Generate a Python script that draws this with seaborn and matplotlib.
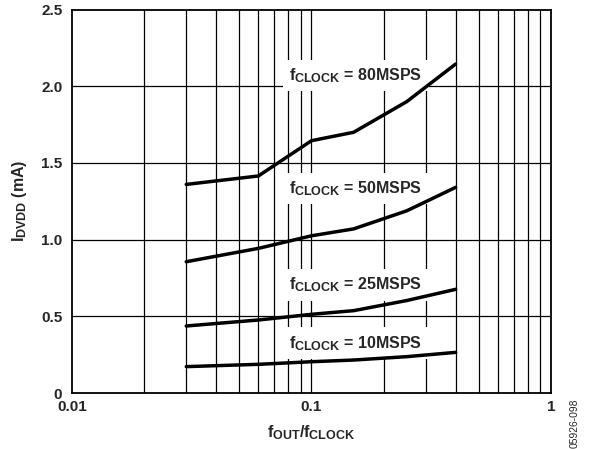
import matplotlib
matplotlib.use("Agg")
import matplotlib.pyplot as plt
import matplotlib._mathtext as mt
import numpy as np
import pandas as pd
import seaborn as sns

# Valores
razao_freq = [0.03, 0.06, 0.1, 0.15, 0.25, 0.4]
idvdd_80 = [1.36, 1.415, 1.645, 1.70, 1.90, 2.145]
idvdd_50 = [0.856, 0.943, 1.025, 1.07, 1.188, 1.341]
idvdd_25 = [0.437, 0.476, 0.513, 0.537, 0.603, 0.676]
idvdd_10 = [0.172, 0.187, 0.204, 0.215, 0.237, 0.265]
clocks = ["80", "50", "25", "10"]
posicao_rotulo_y = [2.07, 1.335, 0.705, 0.325]

series = {"80": idvdd_80, "50": idvdd_50, "25": idvdd_25, "10": idvdd_10}
tabela = pd.concat(
    [pd.DataFrame({"x": razao_freq, "y": v, "clock": k}) for k, v in series.items()],
    ignore_index=True,
)

sns.set_style("white")
plt.rcParams["font.family"] = ["Liberation Sans", "DejaVu Sans"]
plt.rcParams["font.weight"] = "bold"
plt.rcParams["mathtext.fontset"] = "custom"
plt.rcParams["mathtext.rm"] = "Liberation Sans:bold"
plt.rcParams["mathtext.it"] = "Liberation Sans:bold"
plt.rcParams["mathtext.bf"] = "Liberation Sans:bold"
# subscritos um pouco maiores, como no original
mt.SHRINK_FACTOR = 0.78

fig = plt.figure(figsize=(5.91, 4.49), dpi=100)
ax = fig.add_axes([0.1218, 0.1247, 0.8105, 0.854])

ax.set_xscale("log")
ax.set_xlim(0.01, 1)
ax.set_ylim(0, 2.5)

# grade em preto
minor_x = [a * 10.0 ** e for e in (-2, -1) for a in range(2, 10)] + [0.1]
for xv in minor_x:
    ax.axvline(xv, color="black", lw=0.9, zorder=1)
for yv in [0.5, 1.0, 1.5, 2.0]:
    ax.axhline(yv, color="black", lw=0.9, zorder=1)

sns.lineplot(
    data=tabela, x="x", y="y", units="clock", estimator=None,
    color="black", linewidth=2.5, ax=ax, zorder=3, legend=False,
)

for clk, yl in zip(clocks, posicao_rotulo_y):
    ax.text(
        0.0808, yl, r"$f_{CLOCK}$" + f" = {clk}MSPS",
        fontsize=11.5, fontweight="bold", ha="left", va="center", zorder=2,
        bbox=dict(boxstyle="square,pad=0.4", facecolor="white", edgecolor="none"),
    )

ax.set_xticks([0.01, 0.1, 1])
ax.set_xticklabels(["0.01", "0.1", "1"])
ax.xaxis.set_minor_locator(matplotlib.ticker.NullLocator())
ax.set_yticks([0, 0.5, 1.0, 1.5, 2.0, 2.5])
ax.set_yticklabels(["0", "0.5", "1.0", "1.5", "2.0", "2.5"])
ax.tick_params(axis="both", length=0, labelsize=11)
ax.tick_params(axis="x", pad=5)
ax.tick_params(axis="y", pad=7)
for lab in ax.get_xticklabels() + ax.get_yticklabels():
    lab.set_fontweight("bold")

for s in ax.spines.values():
    s.set_color("black")
    s.set_linewidth(1.3)
    s.set_zorder(4)

ax.set_xlabel(r"$f_{OUT}/f_{CLOCK}$", fontsize=11.5, labelpad=7)
ax.set_ylabel(r"$I_{DVDD}$ (mA)", fontsize=11.5, fontweight="bold", labelpad=9)

fig.text(0.973, 0.003, "05926-098", rotation=90, fontsize=7.4, fontweight="normal",
         ha="center", va="bottom")

fig.savefig("out.png", dpi=100)
